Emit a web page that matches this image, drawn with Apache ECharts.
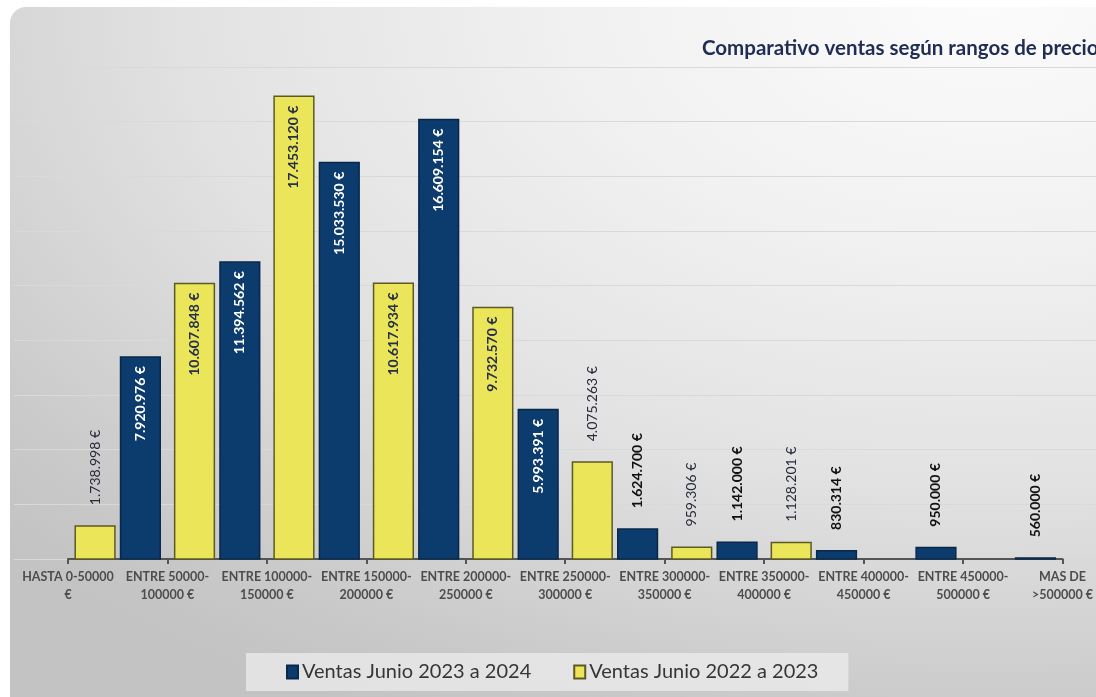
<!DOCTYPE html>
<html>
<head>
<meta charset="utf-8">
<script src="https://cdn.jsdelivr.net/npm/echarts@6/dist/echarts.min.js"></script>
<style>
  html, body { margin: 0; padding: 0; background: #ffffff; overflow: hidden; }
  #panel {
    position: absolute; left: 10px; top: 7px; width: 1110px; height: 720px;
    border-radius: 16px;
    background: radial-gradient(ellipse 120% 110% at 88% 0%, #fbfbfb 0%, #f1f1f1 30%, #e2e2e2 60%, #c9c9c9 90%, #c3c3c3 100%);
  }
  #chart { position: absolute; left: 0; top: 0; width: 1096px; height: 697px; }
</style>
</head>
<body>
<div id="panel"></div>
<div id="chart"></div>
<script>
// Price ranges shown on the category axis (one per tick)
const rangeLabels = [
  'HASTA 0-50000\n€',
  'ENTRE 50000-\n100000 €',
  'ENTRE 100000-\n150000 €',
  'ENTRE 150000-\n200000 €',
  'ENTRE 200000-\n250000 €',
  'ENTRE 250000-\n300000 €',
  'ENTRE 300000-\n350000 €',
  'ENTRE 350000-\n400000 €',
  'ENTRE 400000-\n450000 €',
  'ENTRE 450000-\n500000 €',
  'MAS DE\n>500000 €'
];

// Bar slots sit between consecutive ticks
const barSlots = rangeLabels.slice(0, 10);

const seriesNames = ['Ventas Junio 2023 a 2024', 'Ventas Junio 2022 a 2023'];

// Sales volume (€)
const ventas2324 = [7920976, 11394562, 15033530, 16609154, 5993391, 1624700, 1142000, 830314, 950000, 560000];
const ventas2223 = [1738998, 10607848, 17453120, 10617934, 9732570, 4075263, 959306, 1128201, null, null];

const NAVY = '#0c3b6d';
const YELLOW = '#ebe55a';
const FONT = 'Lato, "Open Sans", sans-serif';

function euro(v) {
  return String(v).replace(/\B(?=(\d{3})+(?!\d))/g, '.') + ' €';
}

// Large bars carry their value inside the top, small ones above the bar
function buildItems(values, insideColor, outsideColor, outsideWeight) {
  return values.map(v => {
    if (v == null) return null;
    const inside = v >= 5000000;
    return {
      value: v,
      label: inside ? {
        position: 'insideTop', distance: 10, rotate: 90,
        align: 'right', verticalAlign: 'middle',
        color: insideColor, fontWeight: 'bold'
      } : {
        position: 'top', distance: 20, rotate: 90,
        align: 'left', verticalAlign: 'middle',
        color: outsideColor, fontWeight: outsideWeight
      }
    };
  });
}

const yScale = { min: 500000, max: 18500000, interval: 2000000 };

const chart = echarts.init(document.getElementById('chart'), null, { renderer: 'canvas' });

chart.setOption({
  backgroundColor: 'transparent',
  animation: false,
  title: {
    text: 'Comparativo ventas según rangos de precio',
    left: 697, top: 33,
    textStyle: { fontFamily: FONT, fontSize: 20.5, fontWeight: 'bold', color: '#1f2d54' }
  },
  legend: {
    data: seriesNames,
    left: 246, top: 653,
    padding: [9, 30, 9, 40],
    backgroundColor: 'rgba(236,236,236,0.75)',
    itemGap: 42,
    itemWidth: 11, itemHeight: 13,
    icon: 'rect',
    textStyle: { fontFamily: FONT, fontSize: 20, color: '#363636', padding: [0, 0, 0, -1] }
  },
  grid: [
    { left: 68, right: 30, top: 67, bottom: 138 },
    { left: 14, right: 0, top: 67, bottom: 138 }
  ],
  xAxis: [
    {
      type: 'category', gridIndex: 0, data: barSlots, boundaryGap: true,
      axisLine: { show: true, lineStyle: { color: '#555555', width: 2 } },
      axisTick: { show: false }, axisLabel: { show: false }
    },
    {
      type: 'category', gridIndex: 0, data: rangeLabels, boundaryGap: false,
      position: 'bottom',
      axisLine: { show: false },
      axisTick: { show: true, length: 5, lineStyle: { color: '#555555', width: 2 } },
      axisLabel: {
        interval: 0, margin: 9, fontFamily: FONT, fontSize: 12.5, fontWeight: 'bold',
        color: '#4d4d4d', lineHeight: 18
      }
    },
    { type: 'value', gridIndex: 1, show: false }
  ],
  yAxis: [
    Object.assign({ type: 'value', gridIndex: 0, show: false, splitLine: { show: false } }, yScale),
    Object.assign({
      type: 'value', gridIndex: 1,
      axisLine: { show: false }, axisTick: { show: false }, axisLabel: { show: false },
      splitLine: { show: true, lineStyle: { color: '#d9d9d9', width: 1 } }
    }, yScale)
  ],
  series: [
    {
      name: seriesNames[1], type: 'bar', xAxisIndex: 0, yAxisIndex: 0,
      data: buildItems(ventas2223, '#26304a', '#262a3a', 'normal'),
      barGap: '10%', barCategoryGap: '13%',
      itemStyle: { color: YELLOW, borderColor: '#5c5a24', borderWidth: 1.5 },
      label: { show: true, fontFamily: FONT, fontSize: 14, formatter: p => euro(p.value) },
      z: 3
    },
    {
      name: seriesNames[0], type: 'bar', xAxisIndex: 0, yAxisIndex: 0,
      data: buildItems(ventas2324, '#ffffff', '#111111', 'bold'),
      barGap: '10%', barCategoryGap: '13%',
      itemStyle: { color: NAVY, borderColor: '#08284a', borderWidth: 1.5 },
      label: { show: true, fontFamily: FONT, fontSize: 14, formatter: p => euro(p.value) },
      z: 3
    }
  ]
});
</script>
</body>
</html>
